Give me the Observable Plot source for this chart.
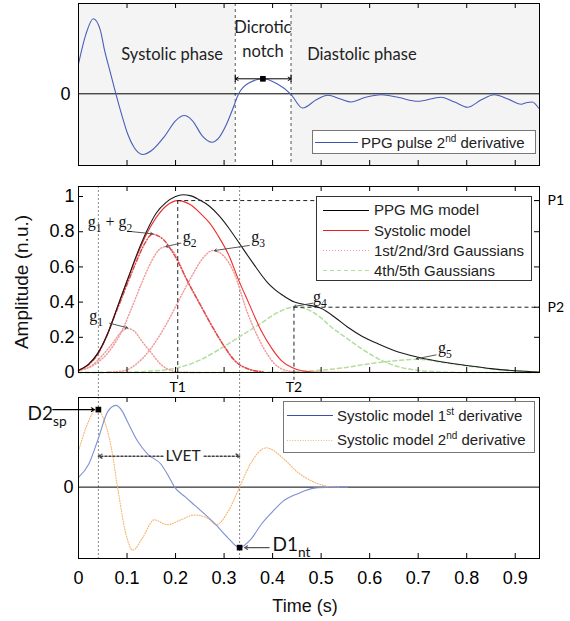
<!DOCTYPE html>
<html><head><meta charset="utf-8">
<script src="https://cdn.jsdelivr.net/npm/d3@7"></script>
<script src="https://cdn.jsdelivr.net/npm/@observablehq/plot@0.6"></script>
<style>
body{margin:0;background:#fff;}
#fig{position:relative;width:570px;height:621px;font-family:"Liberation Sans",Arial,sans-serif;color:#111;overflow:hidden;}
.panel{position:absolute;left:0;}
.legend{position:absolute;background:#fff;box-sizing:border-box;}
.legend .row{position:absolute;left:0;right:0;height:20px;display:flex;align-items:center;white-space:nowrap;font-size:15px;color:#222;}
.legend .row svg{position:absolute;top:0;}
.legend .row span{position:absolute;}
.legend sup{font-size:10px;vertical-align:0;position:relative;top:-6px;}
.lab{position:absolute;white-space:nowrap;}
</style></head>
<body>
<div id="fig">
  <div id="p1" class="panel" style="top:0px"></div>
  <div id="p2" class="panel" style="top:170px"></div>
  <div id="p3" class="panel" style="top:390px"></div>
  <div class="lab" style="left:22px;top:282px;font-size:19px;transform:translate(-50%,-50%) rotate(-90deg);">Amplitude (n.u.)</div>
  <div class="lab" style="left:305px;top:596px;font-size:18px;transform:translateX(-50%);">Time (s)</div>
  <div id="leg1" class="legend" style="left:312px;top:130px;width:224px;height:24px;border:1px solid #777;"></div>
  <div id="leg2" class="legend" style="left:316px;top:196px;width:216px;height:85px;border:1px solid #333;"></div>
  <div id="leg3" class="legend" style="left:283px;top:401px;width:252px;height:52px;border:1px solid #777;"></div>
</div>
<script>
// ---------- data ----------
const xDomain = [0, 0.95];
const xTicks = [0.1, 0.2, 0.3, 0.4, 0.5, 0.6, 0.7, 0.8, 0.9];
const xTickLabels = [0, 0.1, 0.2, 0.3, 0.4, 0.5, 0.6, 0.7, 0.8, 0.9];
const ampTicks = [0, 0.2, 0.4, 0.6, 0.8, 1];
const ampRightTicks = [0.2, 0.6, 0.8];

// top panel: PPG pulse 2nd derivative (arbitrary units)
const ppgD2 = [[0,0.40],[0.0155,0.80],[0.0305,1.0],[0.045,0.85],[0.053,0.60],[0.065,0.30],[0.077,0.0],[0.09,-0.30],[0.101,-0.53],[0.115,-0.72],[0.132,-0.81],[0.15,-0.76],[0.177,-0.57],[0.20,-0.36],[0.218,-0.29],[0.235,-0.36],[0.255,-0.56],[0.275,-0.645],[0.29,-0.58],[0.304,-0.42],[0.318,-0.20],[0.33,0.0],[0.35,0.14],[0.38,0.20],[0.41,0.13],[0.437,0.0],[0.462,-0.19],[0.49,-0.08],[0.514,-0.02],[0.54,-0.07],[0.562,-0.11],[0.59,-0.05],[0.624,-0.013],[0.66,-0.05],[0.699,-0.10],[0.747,-0.045],[0.775,-0.11],[0.802,-0.18],[0.83,-0.08],[0.857,-0.013],[0.885,-0.07],[0.912,-0.14],[0.925,-0.115],[0.935,-0.11],[0.948,-0.19]];
const phaseShade = [{x1: 0, x2: 0.323}, {x1: 0.438, x2: 0.95}];
const phaseBounds = [0.323, 0.438];
const notch = {t1: 0.323, t2: 0.438, peak: 0.380, v: 0.20};
const phaseLabels = [
  {t: 0.193, v: 0.524, label: "Systolic phase"},
  {t: 0.380, v: 0.88, label: "Dicrotic"},
  {t: 0.380, v: 0.56, label: "notch"},
  {t: 0.584, v: 0.515, label: "Diastolic phase"}
];

// middle panel: amplitude (n.u.)
const mgModel = [[0,0.012],[0.02,0.045],[0.04,0.11],[0.06,0.22],[0.08,0.37],[0.10,0.52],[0.12,0.67],[0.14,0.80],[0.16,0.905],[0.18,0.965],[0.20,1.0],[0.215,1.01],[0.23,1.005],[0.25,0.98],[0.27,0.945],[0.29,0.89],[0.31,0.82],[0.33,0.74],[0.36,0.62],[0.39,0.51],[0.42,0.44],[0.445,0.40],[0.47,0.385],[0.50,0.365],[0.53,0.31],[0.555,0.257],[0.585,0.205],[0.617,0.163],[0.65,0.125],[0.70,0.087],[0.75,0.06],[0.80,0.04],[0.85,0.022],[0.90,0.01],[0.95,0.003]];
const systolicModel = [[0,0.012],[0.02,0.045],[0.04,0.11],[0.06,0.22],[0.08,0.37],[0.10,0.52],[0.12,0.66],[0.14,0.785],[0.16,0.88],[0.18,0.945],[0.205,0.977],[0.23,0.955],[0.253,0.90],[0.27,0.85],[0.287,0.78],[0.31,0.665],[0.33,0.525],[0.35,0.40],[0.376,0.24],[0.40,0.13],[0.418,0.068],[0.44,0.028],[0.46,0.01],[0.50,0.001],[0.95,0]];
const gauss12 = [[0,0.012],[0.04,0.105],[0.08,0.36],[0.10,0.50],[0.12,0.635],[0.138,0.74],[0.152,0.786],[0.165,0.775],[0.177,0.75],[0.19,0.70],[0.205,0.63],[0.22,0.545],[0.25,0.39],[0.28,0.24],[0.30,0.15],[0.321,0.07],[0.35,0.02],[0.38,0.004]];
const gauss1 = [[0,0.015],[0.03,0.045],[0.05,0.10],[0.07,0.165],[0.085,0.22],[0.101,0.25],[0.115,0.235],[0.13,0.18],[0.149,0.115],[0.17,0.045],[0.19,0.012],[0.21,0.002],[0.25,0]];
const gauss2 = [[0,0.01],[0.03,0.04],[0.06,0.11],[0.09,0.24],[0.11,0.37],[0.129,0.50],[0.15,0.63],[0.165,0.695],[0.18,0.715],[0.195,0.69],[0.21,0.61],[0.22,0.545],[0.25,0.39],[0.28,0.24],[0.30,0.15],[0.321,0.07],[0.35,0.02],[0.38,0.004]];
const gauss3 = [[0.06,0.002],[0.094,0.01],[0.12,0.05],[0.15,0.14],[0.18,0.27],[0.205,0.40],[0.232,0.54],[0.255,0.645],[0.277,0.693],[0.30,0.66],[0.32,0.57],[0.349,0.333],[0.37,0.20],[0.39,0.10],[0.41,0.035],[0.44,0.005],[0.47,0]];
const gauss4 = [[0,0],[0.10,0.002],[0.15,0.008],[0.204,0.027],[0.25,0.07],[0.28,0.115],[0.33,0.20],[0.376,0.28],[0.41,0.34],[0.444,0.372],[0.47,0.36],[0.50,0.31],[0.52,0.26],[0.55,0.20],[0.589,0.125],[0.62,0.075],[0.658,0.034],[0.70,0.012],[0.75,0.003],[0.80,0],[0.95,0]];
const gauss5 = [[0,0],[0.40,0.001],[0.45,0.005],[0.50,0.013],[0.55,0.028],[0.60,0.05],[0.65,0.066],[0.70,0.075],[0.75,0.058],[0.80,0.038],[0.85,0.021],[0.90,0.009],[0.95,0.003]];
const peakMarks = [{T: "T1", P: "P1", t: 0.2045, v: 0.977}, {T: "T2", P: "P2", t: 0.444, v: 0.371}];
const peakDashBottom = -0.045;
const gLabels = [
  {t: 0.019, v: 0.855, label: "g_{1} + g_{2}"},
  {t: 0.215, v: 0.77, label: "g_{2}"},
  {t: 0.356, v: 0.77, label: "g_{3}"},
  {t: 0.022, v: 0.324, label: "g_{1}"},
  {t: 0.483, v: 0.432, label: "g_{4}"},
  {t: 0.741, v: 0.139, label: "g_{5}"}
];
const gArrows = [
  {t1: 0.108, v1: 0.801, t2: 0.153, v2: 0.788},
  {t1: 0.211, v1: 0.735, t2: 0.180, v2: 0.716},
  {t1: 0.352, v1: 0.722, t2: 0.280, v2: 0.693},
  {t1: 0.064, v1: 0.280, t2: 0.101, v2: 0.254},
  {t1: 0.483, v1: 0.394, t2: 0.444, v2: 0.375},
  {t1: 0.737, v1: 0.100, t2: 0.696, v2: 0.078}
];
const markerTimes = [0.041, 0.332];

// bottom panel: systolic model derivatives (arbitrary units)
const sysD1 = [[0,0.12],[0.021,0.28],[0.04,0.58],[0.06,0.92],[0.077,1.0],[0.09,0.93],[0.101,0.80],[0.122,0.56],[0.143,0.40],[0.17,0.28],[0.185,0.14],[0.198,0],[0.22,-0.12],[0.239,-0.22],[0.26,-0.33],[0.28,-0.44],[0.308,-0.62],[0.332,-0.74],[0.355,-0.64],[0.376,-0.46],[0.40,-0.30],[0.42,-0.18],[0.452,-0.08],[0.486,-0.012],[0.52,-0.002],[0.555,0]];
const sysD2 = [[0,0.44],[0.015,0.72],[0.039,0.96],[0.05,0.86],[0.067,0.50],[0.081,-0.02],[0.098,-0.58],[0.112,-0.77],[0.132,-0.62],[0.156,-0.40],[0.183,-0.46],[0.211,-0.40],[0.239,-0.34],[0.266,-0.38],[0.284,-0.46],[0.308,-0.30],[0.332,0],[0.352,0.26],[0.387,0.48],[0.424,0.34],[0.452,0.18],[0.486,0.06],[0.52,0.004],[0.537,0]];
const keyPoints = [{name: "D2_{sp}", t: 0.041, v: 0.948, lt: -0.105, lv: 0.893, at: -0.053, bt: 0.033},
                   {name: "D1_{nt}", t: 0.332, v: -0.74, lt: 0.40, lv: -0.707, at: 0.393, bt: 0.342}];
const lvet = {t1: 0.041, t2: 0.332, v: 0.379, label: "LVET", gapL: 0.174, gapR: 0.259, mid: 0.2155};

// ---------- helpers ----------
const SERIF = "'Liberation Serif','DejaVu Serif',serif";
const HUMAN = "Lato,'Open Sans',sans-serif";
const SANS = "'Liberation Sans',Arial,sans-serif";
const X = d => d[0], Y = d => d[1];
const fmt = d3.format("~g");
const W = 570, ML = 78, MR = 31, FW = W - ML - MR;
const baseStyle = {background: "transparent", overflow: "visible", fontFamily: SANS, fontSize: "18px", color: "#000"};

function xTickMarks(fh) {
  return [
    Plot.ruleX(xTicks, {stroke: "#000", insetBottom: fh - 5}),
    Plot.ruleX(xTicks, {stroke: "#000", insetTop: fh - 5})
  ];
}
function richText(root) {
  const NS = "http://www.w3.org/2000/svg";
  root.querySelectorAll("text").forEach(el => {
    const s = el.textContent;
    if (!/[_^]\{/.test(s)) return;
    const fs = parseFloat(getComputedStyle(el).fontSize) || 16;
    while (el.firstChild) el.removeChild(el.firstChild);
    const re = /([_^])\{([^}]*)\}/g;
    let last = 0, m, shift = 0;
    const add = (txt, size, dy) => {
      const t = document.createElementNS(NS, "tspan");
      if (size) t.setAttribute("font-size", size);
      if (dy) t.setAttribute("dy", dy);
      t.textContent = txt; el.appendChild(t);
    };
    while ((m = re.exec(s))) {
      if (m.index > last) { add(s.slice(last, m.index), null, shift ? -shift : 0); shift = 0; }
      const d = m[1] === "_" ? fs * 0.32 : -fs * 0.42;
      add(m[2], fs * 0.72, d - shift); shift = d; last = re.lastIndex;
    }
    if (last < s.length) add(s.slice(last), null, shift ? -shift : 0);
  });
}

// ---------- panel 1 ----------
const H1 = 170, MT1 = 3, MB1 = 5, FH1 = H1 - MT1 - MB1;
const p1 = Plot.plot({
  width: W, height: H1, marginTop: MT1, marginBottom: MB1, marginLeft: ML, marginRight: MR,
  x: {domain: xDomain, axis: null}, y: {domain: [-0.956, 1.204]},
  style: baseStyle,
  marks: [
    Plot.rect(phaseShade, {x1: "x1", x2: "x2", fill: "#f4f4f4"}),
    Plot.ruleX(phaseBounds, {stroke: "#555", strokeDasharray: "3,3"}),
    Plot.ruleY([0], {stroke: "#000"}),
    Plot.line(ppgD2, {x: X, y: Y, stroke: "#4a5db8", strokeWidth: 1.1, curve: "monotone-x"}),
    Plot.text(phaseLabels, {x: "t", y: "v", text: "label", fontFamily: HUMAN, fontSize: 16.5, fill: "#222"}),
    Plot.arrow([notch], {x1: "peak", x2: "t1", y1: "v", y2: "v", stroke: "#000", headLength: 5, strokeWidth: 1}),
    Plot.arrow([notch], {x1: "peak", x2: "t2", y1: "v", y2: "v", stroke: "#000", headLength: 5, strokeWidth: 1}),
    Plot.ruleX([notch], {x: "t1", y1: d => d.v - 0.05, y2: d => d.v + 0.05, stroke: "#000"}),
    Plot.ruleX([notch], {x: "t2", y1: d => d.v - 0.05, y2: d => d.v + 0.05, stroke: "#000"}),
    Plot.dot([notch], {x: "peak", y: "v", symbol: "square", r: 3.2, fill: "#000", stroke: null}),
    ...xTickMarks(FH1),
    Plot.axisY([0], {tickSize: 0, tickPadding: 8, fontSize: 18, label: null, tickFormat: fmt}),
    Plot.frame({stroke: "#000"})
  ]
});
document.getElementById("p1").appendChild(p1);

// ---------- panel 2 ----------
const H2 = 230, MT2 = 16, MB2 = 28, FH2 = H2 - MT2 - MB2;
const p2 = Plot.plot({
  width: W, height: H2, marginTop: MT2, marginBottom: MB2, marginLeft: ML, marginRight: MR,
  x: {domain: xDomain}, y: {domain: [0, 1.057]},
  style: baseStyle,
  marks: [
    Plot.ruleX(markerTimes, {stroke: "#8a8a8a", strokeDasharray: "2,2", insetBottom: -25}),
    Plot.line(gauss4, {x: X, y: Y, stroke: "#b2de9e", strokeDasharray: "4,3", curve: "monotone-x"}),
    Plot.line(gauss5, {x: X, y: Y, stroke: "#b2de9e", strokeDasharray: "4,3", curve: "monotone-x"}),
    Plot.line(gauss1, {x: X, y: Y, stroke: "#f29a9a", strokeDasharray: "1,2", curve: "monotone-x"}),
    Plot.line(gauss2, {x: X, y: Y, stroke: "#f29a9a", strokeDasharray: "1,2", curve: "monotone-x"}),
    Plot.line(gauss3, {x: X, y: Y, stroke: "#f29a9a", strokeDasharray: "1,2", curve: "monotone-x"}),
    Plot.line(gauss12, {x: X, y: Y, stroke: "#e24a4a", strokeDasharray: "4,2,1,2", curve: "monotone-x"}),
    Plot.line(systolicModel, {x: X, y: Y, stroke: "#ee2e2e", strokeWidth: 1.1, curve: "monotone-x"}),
    Plot.line(mgModel, {x: X, y: Y, stroke: "#1a1a1a", strokeWidth: 1.1, curve: "monotone-x"}),
    Plot.ruleX(peakMarks, {x: "t", y1: "v", y2: () => peakDashBottom, stroke: "#222", strokeDasharray: "4,3"}),
    Plot.ruleY(peakMarks, {y: "v", x1: "t", x2: () => xDomain[1], stroke: "#222", strokeDasharray: "4,3"}),
    Plot.arrow(gArrows, {x1: "t1", y1: "v1", x2: "t2", y2: "v2", stroke: "#444", strokeWidth: 0.9, headLength: 4}),
    Plot.text(gLabels, {x: "t", y: "v", text: "label", textAnchor: "start", fontFamily: SERIF, fontSize: 16, fill: "#111"}),
    ...xTickMarks(FH2),
    Plot.ruleY(ampTicks, {stroke: "#000", insetRight: FW - 5}),
    Plot.ruleY(ampRightTicks.concat(peakMarks.map(d => d.v)), {stroke: "#000", insetLeft: FW - 5}),
    Plot.axisY({ticks: ampTicks, tickSize: 0, tickPadding: 4, fontSize: 18, label: null, tickFormat: fmt}),
    Plot.axisY(peakMarks.map(d => d.v), {anchor: "right", tickSize: 0, tickPadding: 8, fontSize: 14, fontFamily: HUMAN, label: null,
      tickFormat: v => peakMarks.find(d => d.v === v).P}),
    Plot.axisX(peakMarks.map(d => d.t), {tickSize: 0, tickPadding: 10, fontSize: 14, fontFamily: HUMAN, label: null,
      tickFormat: t => peakMarks.find(d => d.t === t).T}),
    Plot.frame({stroke: "#000"})
  ]
});
document.getElementById("p2").appendChild(p2);
richText(p2);

// ---------- panel 3 ----------
const H3 = 231, MT3 = 7, MB3 = 63, FH3 = H3 - MT3 - MB3;
const p3 = Plot.plot({
  width: W, height: H3, marginTop: MT3, marginBottom: MB3, marginLeft: ML, marginRight: MR,
  x: {domain: xDomain}, y: {domain: [-0.873, 1.096]},
  style: baseStyle,
  marks: [
    Plot.ruleX(markerTimes, {stroke: "#8a8a8a", strokeDasharray: "2,2"}),
    Plot.ruleY([0], {stroke: "#000"}),
    Plot.line(sysD2, {x: X, y: Y, stroke: "#f8b468", strokeDasharray: "1,1.6", strokeWidth: 1.1, curve: "monotone-x"}),
    Plot.line(sysD1, {x: X, y: Y, stroke: "#7f8fd2", strokeWidth: 1.1, curve: "monotone-x"}),
    Plot.arrow([lvet], {x1: "gapL", x2: "t1", y1: "v", y2: "v", stroke: "#444", strokeDasharray: "2,2", headLength: 4}),
    Plot.arrow([lvet], {x1: "gapR", x2: "t2", y1: "v", y2: "v", stroke: "#444", strokeDasharray: "2,2", headLength: 4}),
    Plot.text([lvet], {x: "mid", y: "v", text: "label", fontFamily: HUMAN, fontSize: 15.5, fill: "#222"}),
    Plot.arrow(keyPoints, {x1: "at", x2: "bt", y1: "v", y2: "v", stroke: (d, i) => i === 0 ? "#000" : "#555", strokeWidth: 1.1, headLength: 5}),
    Plot.dot(keyPoints, {x: "t", y: "v", symbol: "square", r: 3.2, fill: "#000", stroke: null}),
    Plot.text(keyPoints, {x: "lt", y: "lv", text: "name", textAnchor: "start", fontFamily: HUMAN, fontSize: 19, fill: "#111"}),
    ...xTickMarks(FH3),
    Plot.axisY([0], {tickSize: 0, tickPadding: 5, fontSize: 18, label: null, tickFormat: fmt}),
    Plot.axisX(xTickLabels, {tickSize: 0, tickPadding: 13, fontSize: 18, label: null, tickFormat: fmt}),
    Plot.frame({stroke: "#000"})
  ]
});
document.getElementById("p3").appendChild(p3);
richText(p3);

// ---------- legends ----------
function legend(id, rows, lineX, lineW, textX) {
  const el = document.getElementById(id);
  rows.forEach(r => {
    const row = document.createElement("div");
    row.className = "row";
    row.style.top = (r.cy - 10) + "px";
    row.innerHTML = `<svg width="${lineX + lineW + 2}" height="20" style="left:0"><line x1="${lineX}" x2="${lineX + lineW}" y1="10.5" y2="10.5" stroke="${r.color}" stroke-width="1.2" ${r.dash ? `stroke-dasharray="${r.dash}"` : ""}/></svg><span style="left:${textX}px">${r.html}</span>`;
    el.appendChild(row);
  });
}
legend("leg1", [{cy: 11, color: "#3f54b0", html: "PPG pulse 2<sup>nd</sup> derivative"}], 2, 43, 48);
legend("leg2", [
  {cy: 12.5, color: "#000", html: "PPG MG model"},
  {cy: 33, color: "#ee1c24", html: "Systolic model"},
  {cy: 53, color: "#f29a9a", dash: "1,2", html: "1st/2nd/3rd Gaussians"},
  {cy: 73, color: "#b2de9e", dash: "4,3", html: "4th/5th Gaussians"}
], 6, 46, 57);
legend("leg3", [
  {cy: 13, color: "#3a4fa8", html: "Systolic model 1<sup>st</sup> derivative"},
  {cy: 37.5, color: "#f8b468", dash: "1,1.6", html: "Systolic model 2<sup>nd</sup> derivative"}
], 3, 46, 53);
</script>
</body></html>
